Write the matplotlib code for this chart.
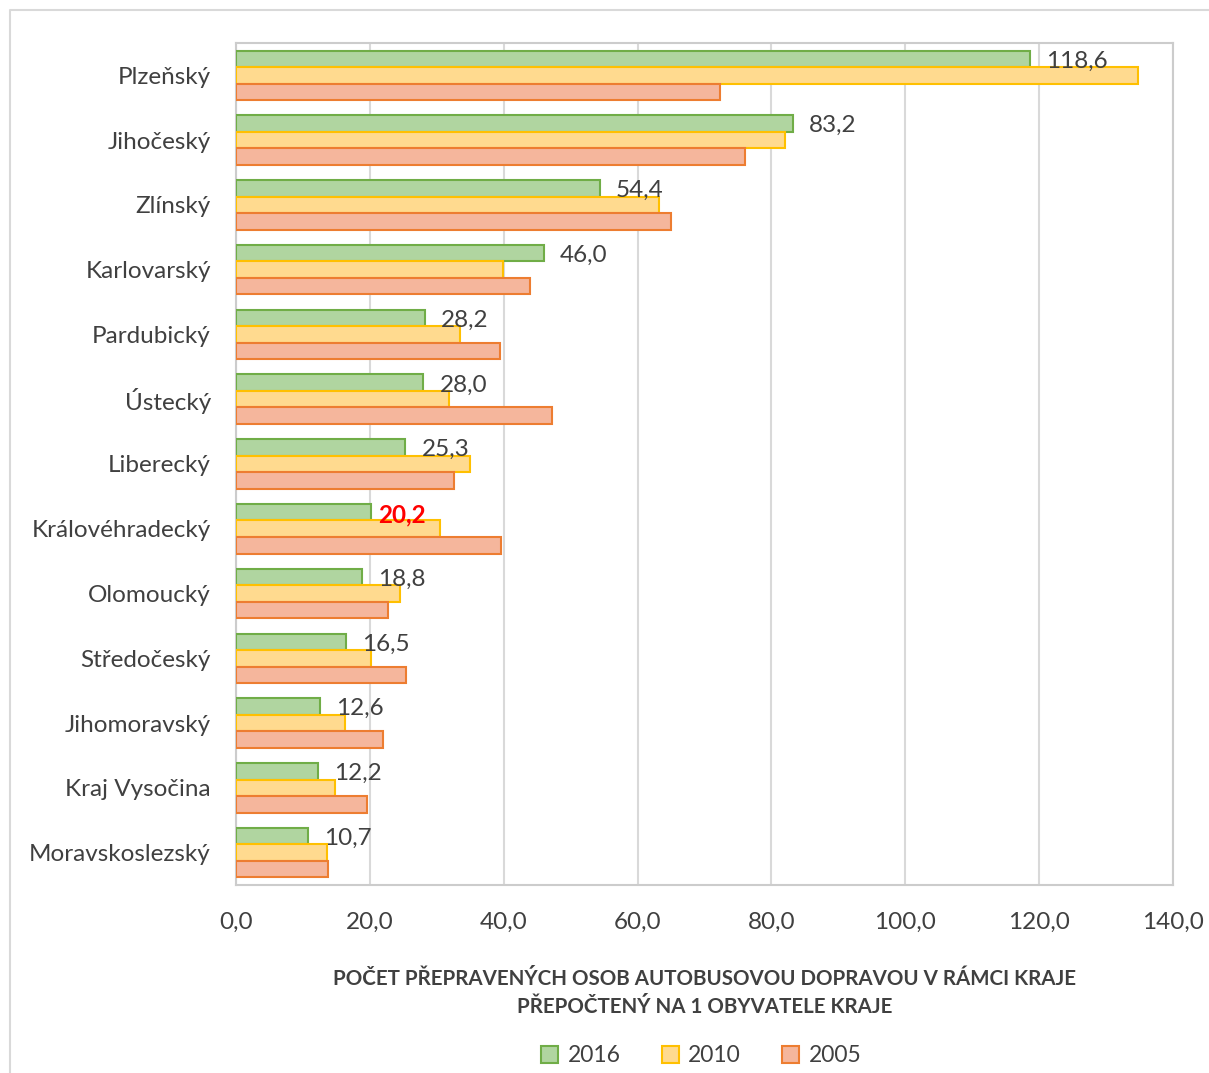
import matplotlib.pyplot as plt
import numpy as np
from matplotlib.patches import Patch
from matplotlib.lines import Line2D

kraje = ['Plzeňský', 'Jihočeský', 'Zlínský', 'Karlovarský', 'Pardubický', 'Ústecký',
         'Liberecký', 'Královéhradecký', 'Olomoucký', 'Středočeský', 'Jihomoravský',
         'Kraj Vysočina', 'Moravskoslezský']
v2016 = [118.6, 83.2, 54.4, 46.0, 28.2, 28.0, 25.3, 20.2, 18.8, 16.5, 12.6, 12.2, 10.7]
v2010 = [134.8, 82.0, 63.2, 39.9, 33.5, 31.8, 35.0, 30.5, 24.5, 20.2, 16.3, 14.8, 13.6]
v2005 = [72.3, 76.0, 65.0, 43.9, 39.4, 47.2, 32.6, 39.6, 22.7, 25.4, 22.0, 19.6, 13.7]

roky = ['2016', '2010', '2005']
vypln = ['#b0d5a0', '#ffda8f', '#f5b69c']
okraj = ['#70ad47', '#ffc000', '#ed7d31']
text_barva = '#404040'
font = 'Lato'

fig = plt.figure(figsize=(12.09, 10.73), dpi=100)
ax = fig.add_axes([0.1952, 0.1752, 0.7750, 0.7848])

# ramecek kolem grafu (vlevo a nahore)
x0 = 10 / 1209
y0 = 1 - 10 / 1073
fig.lines.append(Line2D([x0, x0, 1], [0, y0, y0], transform=fig.transFigure,
                        color='#d9d9d9', linewidth=1.5))

y = np.arange(len(kraje))
h = 0.255
for i, serie in enumerate([v2016, v2010, v2005]):
    ax.barh(y + (i - 1) * h, serie, height=h, color=vypln[i], edgecolor=okraj[i],
            linewidth=1.5, zorder=3)

# popisky hodnot 2016
for k, val in enumerate(v2016):
    txt = f'{val:.1f}'.replace('.', ',')
    if kraje[k] == 'Královéhradecký':
        ax.text(val + 1.0, y[k] - 0.22, txt, va='center', ha='left', fontsize=17.5,
                color='red', fontweight='bold', family=font, zorder=4)
    else:
        ax.text(val + 2.4, y[k] - 0.22, txt, va='center', ha='left', fontsize=17.5,
                color=text_barva, family=font, zorder=4)

ax.set_xlim(0, 140)
ax.set_ylim(len(kraje) - 0.5, -0.5)
ax.set_xticks(np.arange(0, 141, 20))
ax.set_xticklabels([f'{t:.1f}'.replace('.', ',') for t in np.arange(0, 141, 20)],
                   fontsize=17.5, color=text_barva, family=font)
ax.set_yticks(y)
ax.set_yticklabels(kraje, fontsize=17.5, color=text_barva, family=font)
ax.tick_params(axis='both', length=0)
ax.tick_params(axis='x', pad=19)
ax.tick_params(axis='y', pad=18)
ax.grid(axis='x', color='#d9d9d9', linewidth=1.5, zorder=0)
ax.set_axisbelow(True)
for s in ax.spines.values():
    s.set_color('#cccccc')
    s.set_linewidth(1.5)

ax.set_xlabel('POČET PŘEPRAVENÝCH OSOB AUTOBUSOVOU DOPRAVOU V RÁMCI KRAJE\nPŘEPOČTENÝ NA 1 OBYVATELE KRAJE',
              fontsize=14.8, fontweight='bold', color=text_barva, family=font,
              labelpad=26, linespacing=1.55)

handles = [Patch(facecolor=vypln[i], edgecolor=okraj[i], linewidth=1.5, label=roky[i])
           for i in range(3)]
fig.legend(handles=handles, loc='center', bbox_to_anchor=(0.58, 1 - 1056 / 1073),
           ncol=3, frameon=False, prop={'family': font, 'size': 16.5},
           labelcolor=text_barva, handlelength=0.75, handleheight=0.75,
           columnspacing=1.8, handletextpad=0.4)

fig.savefig('out.png', dpi=100)
